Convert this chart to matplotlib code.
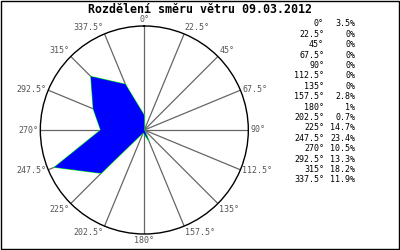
import numpy as np
import matplotlib
matplotlib.use('Agg')
import matplotlib.pyplot as plt
from matplotlib.patches import Rectangle

title = 'Rozdělení směru větru 09.03.2012'
angles = [0, 22.5, 45, 67.5, 90, 112.5, 135, 157.5,
          180, 202.5, 225, 247.5, 270, 292.5, 315, 337.5]
percents = [3.5, 0, 0, 0, 0, 0, 0, 2.8,
            1, 0.7, 14.7, 23.4, 10.5, 13.3, 18.2, 11.9]
rmax = 25

mono = 'DejaVu Sans Mono'

fig = plt.figure(figsize=(4, 2.5), dpi=100)
fig.patch.set_facecolor('white')
fig.patches.append(Rectangle((0.002, 0.004), 0.995, 0.992, transform=fig.transFigure,
                             fill=False, edgecolor='black', lw=1))

fig.text(0.5, 0.962, title, ha='center', va='center', fontsize=8.4,
         fontweight='bold', family=mono)

ax = fig.add_axes([0.1008, 0.064, 0.52, 0.832], projection='polar')
ax.set_theta_zero_location('N')
ax.set_theta_direction(-1)
ax.set_ylim(0, rmax)
ax.grid(False)
ax.set_xticks([])
ax.set_yticks([])
ax.spines['polar'].set_color('black')
ax.spines['polar'].set_linewidth(1)

th = np.deg2rad(angles)

# spokes
for t in th:
    ax.plot([t, t], [0, rmax], color='#666666', lw=0.9, zorder=1)

# wind rose polygon
th_c = np.append(th, th[0])
pc = np.append(percents, percents[0])
ax.plot(th_c, pc, color='#00ff00', lw=0.8, zorder=2)
ax.fill(th_c, pc, color='#0000ff', lw=0, zorder=3)

# direction labels
for a, t in zip(angles, th):
    s = np.sin(t)
    if abs(s) < 0.1:
        ha = 'center'
    elif s > 0:
        ha = 'left'
    else:
        ha = 'right'
    c = np.cos(t)
    if c > 0.6:
        va = 'bottom'
    elif c < -0.6:
        va = 'top'
    else:
        va = 'center'
    ax.text(t, rmax * 1.02, f'{a:g}°', ha=ha, va=va, fontsize=6,
            color='#555555', family=mono, zorder=4)

# legend table
y0 = 1 - 24 / 250
dy = 10.4 / 250
for i, (a, p) in enumerate(zip(angles, percents)):
    y = y0 - i * dy
    fig.text(0.81, y, f'{a:g}°', ha='right', va='center', fontsize=6, family=mono)
    fig.text(0.8875, y, f'{p:g}%', ha='right', va='center', fontsize=6, family=mono)

fig.savefig('out.png', dpi=100)
